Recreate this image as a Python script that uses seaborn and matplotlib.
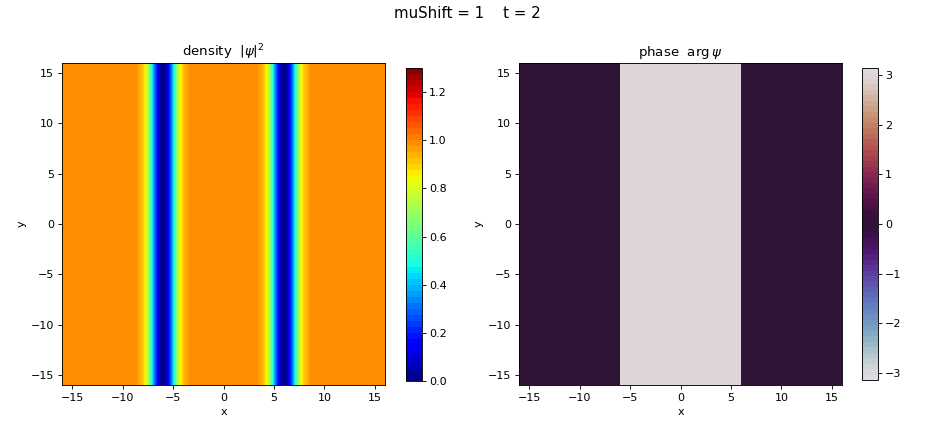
import numpy as np
import matplotlib
matplotlib.use("Agg")
import matplotlib.pyplot as plt
import seaborn as sns

sns.set_style("ticks", {"axes.edgecolor": "black", "xtick.color": "black",
                        "ytick.color": "black", "text.color": "black",
                        "axes.labelcolor": "black"})
plt.rcParams["font.family"] = ["DejaVu Sans"]

# soliton centres and the density dip (offset from centre -> |psi|^2)
soliton_x = [-6.0, 6.0]
dip_offset = [-3.0, -2.5, -2.0, -1.75, -1.5, -1.25, -1.0, -0.75, -0.5, -0.25, 0.0,
              0.25, 0.5, 0.75, 1.0, 1.25, 1.5, 1.75, 2.0, 2.5, 3.0]
dip_rho = [1.0, 0.97, 0.91, 0.84, 0.74, 0.6, 0.43, 0.27, 0.13, 0.03, 0.0,
           0.03, 0.13, 0.27, 0.43, 0.6, 0.74, 0.84, 0.91, 0.97, 1.0]
box_x = [-16.0, 16.0]
background_rho = 1.0

# phase: flat 0 outside the soliton pair, ~pi between them
phase_x = [-16.0, -6.05, -5.95, 5.95, 6.05, 16.0]
phase_val = [0.0, 0.0, 3.0, 3.0, 0.0, 0.0]

y_rows = [-16.0, 16.0]

# build x nodes for the density columns
x_nodes = [box_x[0]]
rho_nodes = [background_rho]
for c in soliton_x:
    x_nodes += [c + d for d in dip_offset]
    rho_nodes += dip_rho
x_nodes.append(box_x[1])
rho_nodes.append(background_rho)

X_rho = np.array(x_nodes)
Z_rho = np.vstack([rho_nodes, rho_nodes])
X_ph = np.array(phase_x)
Z_ph = np.vstack([phase_val, phase_val])
Y = np.array(y_rows)

W, H = 935, 425
fig = plt.figure(figsize=(W / 80, H / 80), dpi=80)


def box(x0, y0, x1, y1):
    return [x0 / W, 1 - y1 / H, (x1 - x0) / W, (y1 - y0) / H]


ax1 = fig.add_axes(box(62, 63, 385, 385))
cax1 = fig.add_axes(box(405.5, 68, 421.5, 381))
ax2 = fig.add_axes(box(519, 63, 842, 385))
cax2 = fig.add_axes(box(862, 68, 877.5, 380))

jet = matplotlib.colormaps["jet"]
twilight = matplotlib.colormaps["twilight"]

cs1 = ax1.contourf(X_rho, Y, Z_rho, levels=np.arange(0, 1.3001, 0.025), cmap=jet)
ax1.set_title(r"density  $|\psi|^2$")
ax1.set_xlabel("x")
ax1.set_ylabel("y")
fig.colorbar(cs1, cax=cax1, ticks=[0.0, 0.2, 0.4, 0.6, 0.8, 1.0, 1.2])

cs2 = ax2.contourf(X_ph, Y, Z_ph, levels=np.linspace(-np.pi, np.pi, 58), cmap=twilight)
ax2.set_title(r"phase  $\arg\psi$")
ax2.set_xlabel("x")
ax2.set_ylabel("y")
fig.colorbar(cs2, cax=cax2, ticks=[-3, -2, -1, 0, 1, 2, 3])

for ax in (ax1, ax2):
    ax.set_xlim(-16, 16)
    ax.set_ylim(-16, 16)
    ax.set_xticks([-15, -10, -5, 0, 5, 10, 15])
    ax.set_yticks([-15, -10, -5, 0, 5, 10, 15])

fig.suptitle("muShift = 1    t = 2", fontsize=13.5, y=0.985)

fig.savefig("out.png", dpi=80)
